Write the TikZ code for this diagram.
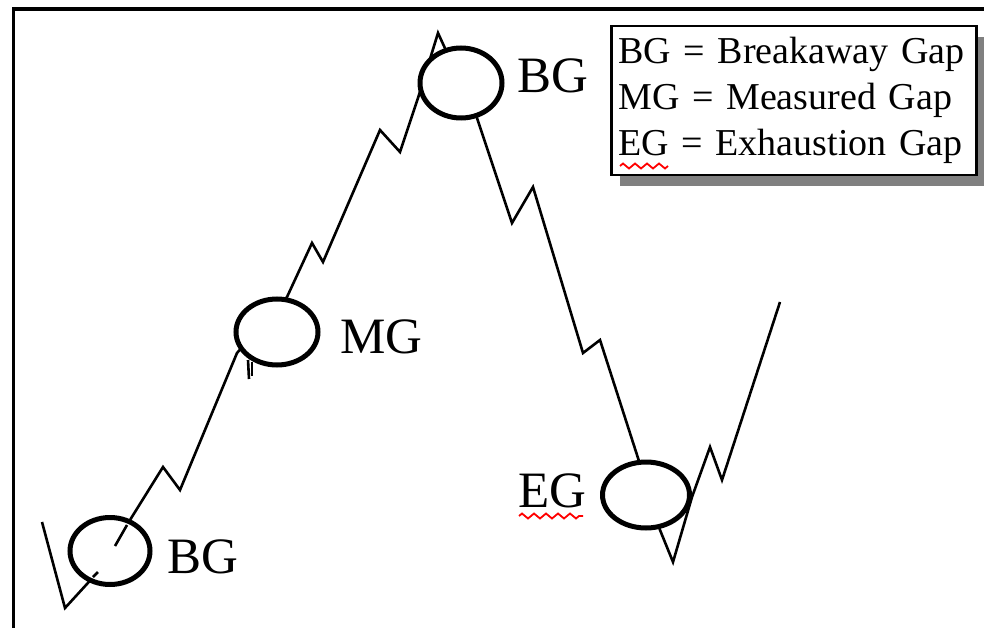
\documentclass[tikz,border=0pt]{standalone}
\usepackage{fontspec}
\setmainfont{Liberation Serif}
\usepackage{tikz}
\usetikzlibrary{shapes.geometric,shadows,decorations.pathmorphing}

\begin{document}
\begin{tikzpicture}[
  x=1pt,y=-1pt,
  % price line and gap rings
  price/.style={draw=black,line width=2.6pt,line join=miter},
  gapring/.style={ellipse,draw=black,fill=white,line width=5pt,inner sep=0pt},
  gaplabel/.style={anchor=base west,inner sep=0pt,font=\fontsize{51}{51}\selectfont},
  legendbox/.style={draw=black,fill=white,line width=2.5pt,anchor=north west,
    text width=351pt,inner xsep=7pt,minimum height=149pt,align=left,
    font=\fontsize{38}{46}\selectfont,
    drop shadow={shadow xshift=9pt,shadow yshift=-11pt,fill=black!50,opacity=1}},
  spellmark/.style={draw=red,line width=1.8pt,
    decorate,decoration={zigzag,segment length=12pt,amplitude=2.5pt}}
]
\useasboundingbox (0,0) rectangle (984,628);

% frame (top and left)
\draw[line width=3.5pt] (13.5,628) -- (13.5,9) -- (984,9);

% the price line
\draw[price] (42,522) -- (65,608) -- (97,573) -- (130,520) -- (163,467)
  -- (180,490) -- (237,353) -- (287,297) -- (312,243) -- (323,262)
  -- (380,130) -- (400,152) -- (418,98) -- (438,33) -- (477,118)
  -- (512,223) -- (533,187) -- (583,353) -- (600,340) -- (638,458)
  -- (660,530) -- (673,562) -- (692,497) -- (710,447) -- (722,480)
  -- (780,302);

% gaps
\node[gapring,minimum width=80pt,minimum height=67pt] (bgLow) at (110,551) {};  % bottom
\node[gapring,minimum width=82pt,minimum height=66pt] (mg) at (277,332) {};     % middle
\node[gapring,minimum width=82pt,minimum height=70pt] (bgTop) at (461,83) {};   % top
\node[gapring,minimum width=87pt,minimum height=66pt] (eg) at (646,495) {};     % right

% bits of the line seen through the rings
\draw[price] (115,546) -- (127,525);
\draw[price] (93,577) -- (98,572);
\draw[price] (248,360) -- (249,379);
\draw[price] (252,362) -- (252,376);

% labels
\node[gaplabel] (bgLowText) at (167,573) {BG};
\node[gaplabel] (mgText) at (340,353) {MG};
\node[gaplabel] (bgTopText) at (517,93) {BG};
\node[gaplabel] (egText) at (518,507) {EG};
\draw[spellmark] (519,516) -- (583,516);

% legend
\node[legendbox] (legend) at (610,25) {BG = Breakaway Gap\\MG = Measured Gap\\EG = Exhaustion Gap};
\draw[spellmark] (620,166) -- (668,166);

\end{tikzpicture}
\end{document}
